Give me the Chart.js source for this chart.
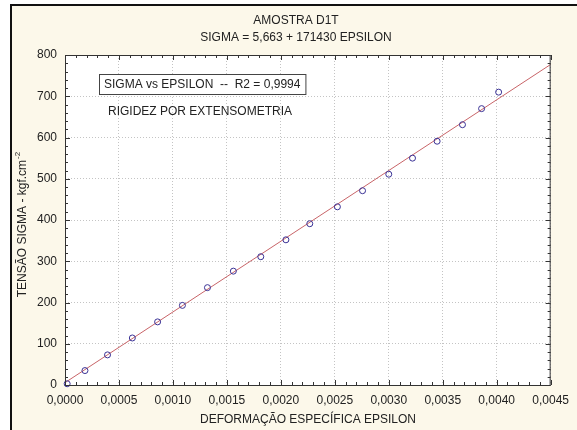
<!DOCTYPE html>
<html>
<head>
<meta charset="utf-8">
<script src="https://cdn.jsdelivr.net/npm/chart.js@4"></script>
<style>
html, body { margin: 0; padding: 0; background: #fff; }
#c { display: block; }
</style>
</head>
<body>
<canvas id="c" width="577" height="430"></canvas>
<script>
// measured points (deformation, stress)
const epsilon = [0.00002, 0.000185, 0.000394, 0.000624, 0.000858, 0.001088, 0.00132, 0.00156,
  0.001814, 0.002047, 0.002268, 0.002524, 0.002757, 0.003, 0.00322, 0.003448, 0.003683, 0.00386, 0.004018];
const sigma = [3, 35, 73, 114, 153, 193, 236, 276, 311, 352, 391, 432, 471, 511, 550, 591, 631, 670, 710];

// regression line end points
const fitEps = [0, 0.0045];
const fitSigma = [5.663, 777.1];

const titleLines = ['AMOSTRA D1T', 'SIGMA = 5,663 + 171430 EPSILON'];
const boxText = 'SIGMA vs EPSILON  --  R2 = 0,9994';
const noteText = 'RIGIDEZ POR EXTENSOMETRIA';
const xTitle = 'DEFORMAÇÃO ESPECÍFICA EPSILON';
const yTitle = 'TENSÃO SIGMA - kgf.cm';
const yTitleSup = '-2';

const FONT = '"Liberation Sans", Arial, sans-serif';
const CREAM = '#fcf8ea';

const framePlugin = {
  id: 'frame',
  beforeDraw(chart) {
    const ctx = chart.ctx;
    const a = chart.chartArea;
    ctx.save();
    ctx.fillStyle = '#fff';
    ctx.fillRect(0, 0, chart.width, chart.height);
    ctx.fillStyle = CREAM;
    ctx.fillRect(10, 4, chart.width - 10, chart.height - 4);
    ctx.fillStyle = '#111';
    ctx.fillRect(10, 4, chart.width - 10, 2);
    ctx.fillRect(10, 4, 2, chart.height - 4);
    ctx.fillStyle = '#fff';
    ctx.fillRect(a.left, a.top, a.right - a.left, a.bottom - a.top);
    ctx.restore();
  },
  afterDraw(chart) {
    const ctx = chart.ctx;
    const a = chart.chartArea;
    const xs = chart.scales.x, ys = chart.scales.y;
    ctx.save();
    // plot frame
    ctx.strokeStyle = '#333';
    ctx.lineWidth = 1;
    ctx.strokeRect(a.left + 0.5, a.top + 0.5, a.right - a.left - 1, a.bottom - a.top);

    // inner ticks on all four sides
    ctx.beginPath();
    for (let i = 0; i <= 45; i++) {
      const v = i * 0.0001;
      const px = Math.round(xs.getPixelForValue(v)) + 0.5;
      const len = i % 5 === 0 ? 5 : 3;
      ctx.moveTo(px, a.bottom); ctx.lineTo(px, a.bottom - len);
      ctx.moveTo(px, a.top); ctx.lineTo(px, a.top + len);
    }
    for (let i = 0; i <= 40; i++) {
      const v = i * 20;
      const py = Math.round(ys.getPixelForValue(v)) + 0.5;
      const len = i % 5 === 0 ? 5 : 3;
      ctx.moveTo(a.left, py); ctx.lineTo(a.left + len, py);
      ctx.moveTo(a.right, py); ctx.lineTo(a.right - len, py);
    }
    ctx.stroke();

    // titles
    ctx.fillStyle = '#222';
    ctx.font = '12px ' + FONT;
    ctx.textAlign = 'center';
    ctx.textBaseline = 'middle';
    ctx.fillText(titleLines[0], 296, 21);
    ctx.fillText(titleLines[1], 296, 38);
    ctx.fillText(xTitle, 308, 420);

    // annotation box
    ctx.textAlign = 'left';
    const w = ctx.measureText(boxText).width;
    ctx.fillStyle = '#fff';
    ctx.fillRect(99, 74, w + 10, 20);
    ctx.strokeStyle = '#444';
    ctx.strokeRect(99.5, 74.5, w + 10, 20);
    ctx.fillStyle = '#222';
    ctx.fillText(boxText, 104, 84.5);
    ctx.fillText(noteText, 108, 112);

    // y title with superscript
    ctx.translate(23, 225);
    ctx.rotate(-Math.PI / 2);
    ctx.font = '12px ' + FONT;
    const wm = ctx.measureText(yTitle).width;
    ctx.font = '8px ' + FONT;
    const wsup = ctx.measureText(yTitleSup).width;
    const start = -(wm + wsup) / 2;
    ctx.font = '12px ' + FONT;
    ctx.fillText(yTitle, start, 0);
    ctx.font = '8px ' + FONT;
    ctx.fillText(yTitleSup, start + wm + 1, -5);
    ctx.restore();
  }
};

new Chart(document.getElementById('c'), {
  data: {
    datasets: [
      {
        type: 'scatter',
        data: epsilon.map((e, i) => ({ x: e, y: sigma[i] })),
        pointRadius: 3,
        pointBorderWidth: 1,
        borderColor: '#3a3296',
        backgroundColor: 'rgba(0,0,0,0)',
        clip: false,
        order: 0
      },
      {
        type: 'line',
        data: fitEps.map((e, i) => ({ x: e, y: fitSigma[i] })),
        borderColor: '#c86468',
        borderWidth: 1,
        pointRadius: 0,
        fill: false,
        order: 1
      }
    ]
  },
  options: {
    responsive: false,
    animation: false,
    layout: { padding: { left: 12, right: 24, top: 55, bottom: 0 } },
    plugins: {
      legend: { display: false },
      tooltip: { enabled: false },
      title: { display: false }
    },
    scales: {
      x: {
        type: 'linear',
        min: 0,
        max: 0.0045,
        afterFit(scale) { scale.height = 45; },
        ticks: {
          stepSize: 0.0005,
          padding: 8,
          color: '#222',
          font: { family: FONT, size: 12 },
          maxRotation: 0,
          autoSkip: false,
          callback: v => v.toFixed(4).replace('.', ',')
        },
        grid: { color: '#c4c4c4', drawTicks: false, lineWidth: 1 },
        border: { display: false, dash: [1, 2] }
      },
      y: {
        type: 'linear',
        min: 0,
        max: 800,
        afterFit(scale) { scale.width = 53; },
        ticks: {
          stepSize: 100,
          padding: 8,
          color: '#222',
          font: { family: FONT, size: 12 }
        },
        grid: { color: '#c4c4c4', drawTicks: false, lineWidth: 1 },
        border: { display: false, dash: [1, 2] }
      }
    }
  },
  plugins: [framePlugin]
});
</script>
</body>
</html>
